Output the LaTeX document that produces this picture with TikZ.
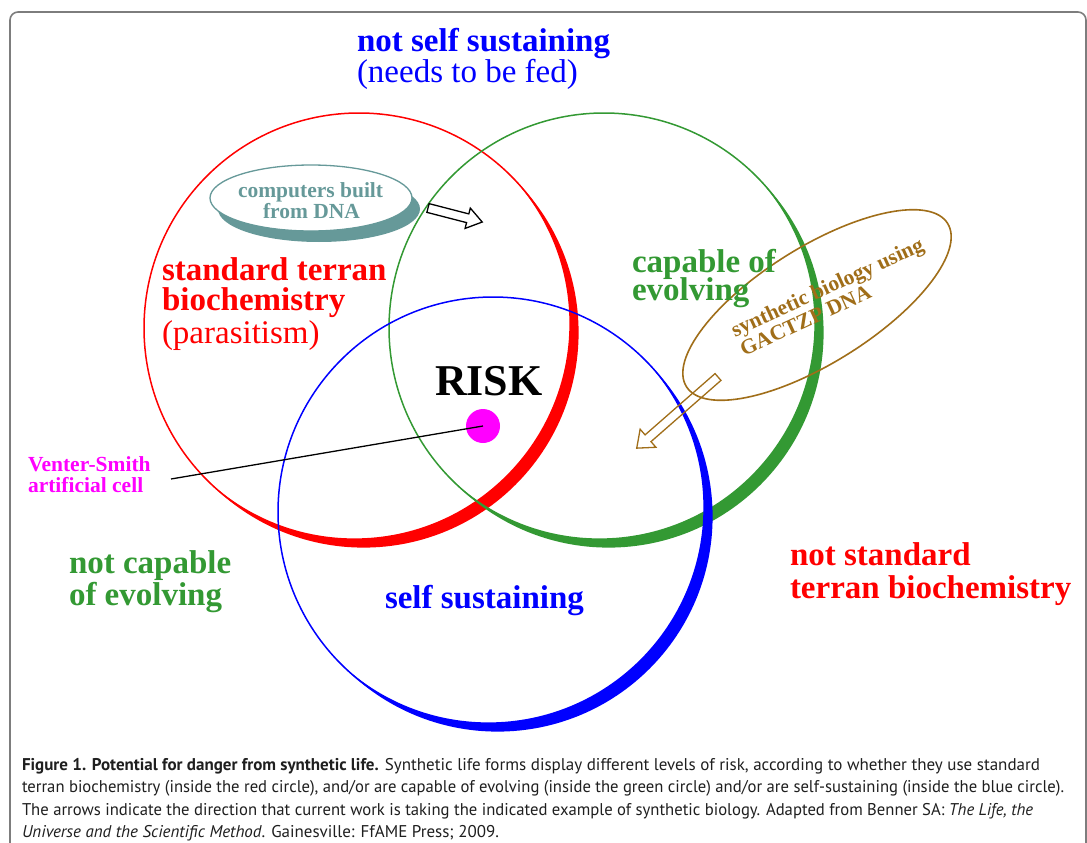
\documentclass[tikz,border=0pt]{standalone}
\usepackage{fontspec}
\usepackage{graphicx}
\setmainfont{Liberation Serif}
\newfontfamily\capfont{PT Sans}
\definecolor{vgreen}{RGB}{51,153,51}
\definecolor{vteal}{RGB}{102,153,153}
\definecolor{vbrown}{RGB}{160,110,25}
\definecolor{vframe}{RGB}{125,125,125}
\definecolor{vmag}{RGB}{255,0,255}
\newcommand\myring[4]{%
  \begin{scope}
    \clip (#2+4.6,#3+4.6) circle[radius=#4];
    \fill[#1, even odd rule] (#2-300,#3-300) rectangle (#2+300,#3+300)
         (#2-4.6,#3-4.6) circle[radius=#4];
  \end{scope}
  \draw[#1, line width=1.5pt] (#2,#3) circle[radius=#4];
}
\begin{document}
\begin{tikzpicture}[x=1pt,y=-1pt,
  lbl/.style={anchor=base west, inner sep=0pt, outer sep=0pt},
  bigb/.style={lbl, font=\fontsize{33}{36}\selectfont\bfseries},
  bigr/.style={lbl, font=\fontsize{33}{36}\selectfont},
  midb/.style={lbl, font=\fontsize{21.5}{24}\selectfont\bfseries},
  captxt/.style={lbl, text=black!88, font=\capfont\fontsize{17}{20}\selectfont},
  hollow/.style={line width=1.3pt, line join=miter}]
\useasboundingbox (0,0) rectangle (1087,843);
\clip (0,0) rectangle (1087,843);
\fill[white] (0,0) rectangle (1087,843);
\draw[vframe, line width=1.6pt, rounded corners=8pt] (10,12) rectangle (1086,900);

% teal ellipse with shadow
\begin{scope}
  \clip (319,209) ellipse[x radius=101, y radius=33];
  \fill[vteal, even odd rule] (150,100) rectangle (480,300)
       (311,198) ellipse[x radius=101, y radius=33];
\end{scope}
\draw[vteal, line width=1.3pt] (311,198) ellipse[x radius=101, y radius=33];
\node[midb, text=vteal] (comp1) at (238,197) {computers built};
\node[midb, text=vteal] (comp2) at (263,218) {from DNA};

% circles
\myring{red}{359}{328}{215}
\myring{vgreen}{604}{328}{215}
\myring{blue}{493}{512}{215}

% black hollow arrow
\begin{scope}[shift={(428,208)}, rotate=-14.5]
  \draw[hollow, black, fill=white] (0,-4.5) -- (41,-4.5) -- (41,-10.5) -- (56,0)
       -- (41,10.5) -- (41,4.5) -- (0,4.5) -- cycle;
\end{scope}

% brown ellipse and arrow
\draw[vbrown, line width=1.6pt, rotate around={32:(817,305)}] (817,305) ellipse[x radius=154, y radius=58];
\begin{scope}[shift={(718,377)}, rotate=-138.8]
  \draw[hollow, vbrown] (0,-4.5) -- (93,-4.5) -- (93,-12) -- (108,0)
       -- (93,12) -- (93,4.5) -- (0,4.5) -- cycle;
\end{scope}
\node[midb, text=vbrown, rotate=24.6] (syn1) at (735,337) {synthetic biology using};
\node[midb, text=vbrown, rotate=24.6] (syn2) at (744,356) {GACTZP DNA};

% texts
\node[bigb, text=blue] (nss) at (357,52) {not self sustaining};
\node[bigr, text=blue] (fed) at (357,82) {(needs to be fed)};
\node[bigb, text=red] (std1) at (162,280) {standard terran};
\node[bigb, text=red] (std2) at (162,310) {biochemistry};
\node[bigr, text=red] (par) at (162,343) {(parasitism)};
\node[bigb, text=vgreen] (cap1t) at (632,272) {capable of};
\node[bigb, text=vgreen] (cap2t) at (632,300) {evolving};
\node[lbl, font=\fontsize{44}{48}\selectfont\bfseries] (risk) at (435,395) {RISK};
\node[bigb, text=vgreen] (nce1) at (69,573) {not capable};
\node[bigb, text=vgreen] (nce2) at (69,605) {of evolving};
\node[bigb, text=blue] (ss) at (385,608) {self sustaining};
\node[bigb, text=red] (nst1) at (790,565) {not standard};
\node[bigb, text=red] (nst2) at (790,598) {terran biochemistry};

% Venter-Smith
\node[midb, text=vmag] (vs1) at (28,471) {Venter-Smith};
\node[midb, text=vmag] (vs2) at (28,492) {artificial cell};
\node[circle, fill=vmag, minimum size=34pt, inner sep=0pt] (dot) at (483,426) {};
\coordinate (vsend) at (171,479);
\draw[black, line width=1.3pt] (dot.center) -- (vsend);

% caption
\node[captxt] (c1) at (22,770) {\resizebox{1018pt}{\height}{\textbf{Figure 1. Potential for danger from synthetic life.} Synthetic life forms display different levels of risk, according to whether they use standard}};
\node[captxt] (c2) at (22,792.5) {\resizebox{1042pt}{\height}{terran biochemistry (inside the red circle), and/or are capable of evolving (inside the green circle) and/or are self-sustaining (inside the blue circle).}};
\node[captxt] (c3) at (22,815) {\resizebox{1011pt}{\height}{The arrows indicate the direction that current work is taking the indicated example of synthetic biology. Adapted from Benner SA: \textit{The Life, the}}};
\node[captxt] (c4) at (22,837.5) {\resizebox{477pt}{\height}{\textit{Universe and the Scientific Method}. Gainesville: FfAME Press; 2009.}};
\end{tikzpicture}
\end{document}
